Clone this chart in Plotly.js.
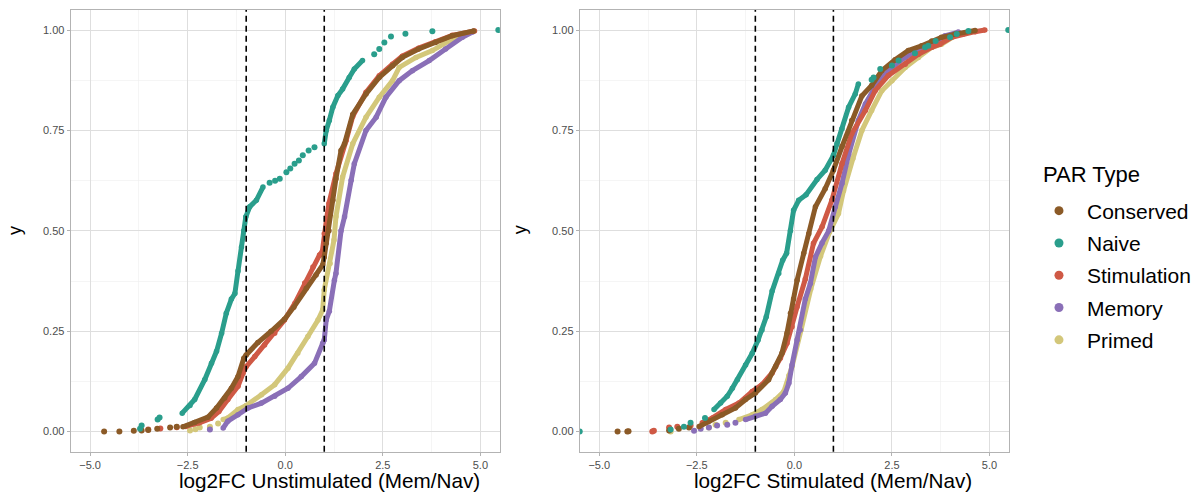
<!DOCTYPE html>
<html>
<head>
<meta charset="utf-8">
<script src="https://cdn.plot.ly/plotly-3.0.1.min.js"></script>
<style>html,body{margin:0;padding:0;background:#fff;}#chart{width:1196px;height:493px;}</style>
</head>
<body>
<div id="chart"></div>
<script>
// ---- Series names and colours ----
const parTypes = ["Conserved", "Naive", "Stimulation", "Memory", "Primed"];
const parColors = {Conserved: "#8b5a27", Naive: "#2a9e8c", Stimulation: "#cf5945", Memory: "#8a6fb7", Primed: "#d3c77a"};

// ---- Left panel: log2FC Unstimulated (Mem/Nav), ECDF ----
const unstimConservedX = [-2.62,-2.32,-1.98,-1.76,-1.55,-1.38,-1.21,-1.06,-1.0,-0.70,-0.36,-0.02,0.22,0.54,0.79,0.96,1.0,1.05,1.12,1.22,1.30,1.43,1.52,1.73,2.07,2.41,2.75,3.0,3.42,3.85,4.28,4.83];
const unstimConservedY = [0.012,0.023,0.036,0.059,0.084,0.108,0.137,0.183,0.191,0.222,0.25,0.28,0.31,0.357,0.39,0.415,0.435,0.469,0.50,0.576,0.63,0.70,0.717,0.79,0.841,0.882,0.911,0.932,0.953,0.969,0.986,0.998];
const unstimConservedDotsX = [-4.64,-4.25,-3.88,-3.68,-3.51,-3.28,-2.95,-2.78];
const unstimConservedDotsY = [0,0,0.002,0.003,0.004,0.007,0.01,0.012];

const unstimStimulationX = [-2.55,-2.2,-1.9,-1.7,-1.47,-1.21,-1.08,-1.0,-0.78,-0.53,-0.27,-0.02,0.25,0.5,0.71,0.88,0.95,1.0,1.06,1.12,1.30,1.56,1.73,2.07,2.41,2.75,3.0,3.42,3.85,4.28,4.85];
const unstimStimulationY = [0.013,0.022,0.033,0.05,0.08,0.113,0.146,0.162,0.187,0.216,0.245,0.278,0.32,0.37,0.41,0.44,0.448,0.493,0.53,0.568,0.642,0.725,0.785,0.845,0.886,0.915,0.935,0.955,0.971,0.987,0.998];
const unstimStimulationDotsX = [-3.51,-3.2,-2.78];
const unstimStimulationDotsY = [0.005,0.008,0.011];

const unstimPrimedX = [-1.59,-1.47,-1.21,-1.0,-0.61,-0.27,0.07,0.32,0.58,0.84,0.96,1.0,1.15,1.25,1.30,1.47,1.73,2.07,2.41,2.75,2.92,3.35,3.77,4.2,4.55];
const unstimPrimedY = [0.03,0.034,0.055,0.065,0.092,0.117,0.158,0.195,0.237,0.278,0.303,0.353,0.419,0.477,0.535,0.634,0.717,0.783,0.833,0.874,0.907,0.932,0.949,0.973,0.988];
const unstimPrimedDotsX = [-2.44,-2.3,-2.19,-1.93,-1.72];
const unstimPrimedDotsY = [0.003,0.006,0.01,0.012,0.02];

const unstimMemoryX = [-1.59,-1.47,-1.21,-0.95,-0.61,-0.27,0.07,0.41,0.75,0.96,1.0,1.05,1.13,1.26,1.30,1.43,1.52,1.69,1.77,2.07,2.33,2.58,2.92,3.26,3.69,4.11,4.54,4.80];
const unstimMemoryY = [0.009,0.026,0.042,0.059,0.071,0.088,0.108,0.137,0.17,0.22,0.228,0.278,0.30,0.377,0.394,0.50,0.535,0.626,0.667,0.75,0.783,0.833,0.874,0.899,0.924,0.953,0.982,0.995];
const unstimMemoryDotsX = [-1.93];
const unstimMemoryDotsY = [0.005];

const unstimNaiveX = [-2.64,-2.44,-2.32,-2.06,-1.89,-1.76,-1.63,-1.51,-1.38,-1.29,-1.21,-1.12,-1.06,-1.01,-0.91,-0.74,-0.57,null,1.0,1.05,1.13,1.22,1.35,1.47,1.64,1.77,1.98];
const unstimNaiveY = [0.046,0.065,0.08,0.13,0.17,0.20,0.245,0.295,0.33,0.344,0.40,0.46,0.50,0.535,0.56,0.576,0.609,null,0.717,0.75,0.775,0.808,0.837,0.853,0.882,0.903,0.924];
const unstimNaiveDotsX = [-3.72,-3.68,-3.27,-3.22,-0.40,-0.26,-0.14,0.03,0.13,0.24,0.35,0.45,0.6,0.75,2.28,2.41,2.54,2.71,3.08,3.77,5.46];
const unstimNaiveDotsY = [0.007,0.015,0.03,0.035,0.62,0.625,0.63,0.646,0.655,0.667,0.675,0.688,0.70,0.708,0.94,0.953,0.969,0.984,0.991,0.997,1.0];

// ---- Right panel: log2FC Stimulated (Mem/Nav) ----
const stimConservedX = [-2.44,-2.19,-1.85,-1.51,-1.25,-1.0,-0.66,-0.48,-0.32,-0.19,-0.10,-0.02,0.07,0.24,0.37,0.54,0.79,1.0,1.22,1.47,1.73,1.98,2.24,2.58,2.92,3.26,3.52,3.77,4.12,4.63];
const stimConservedY = [0.013,0.026,0.042,0.059,0.08,0.096,0.129,0.162,0.195,0.245,0.295,0.33,0.377,0.444,0.493,0.56,0.605,0.651,0.71,0.775,0.836,0.862,0.899,0.926,0.949,0.961,0.973,0.982,0.99,0.999];
const stimConservedDotsX = [-4.53,-4.28,-4.25,-3.21,-2.96,-2.70];
const stimConservedDotsY = [0,0,0.001,0.003,0.007,0.01];

const stimStimulationX = [-2.36,-2.10,-1.76,-1.42,-1.08,-0.83,-0.57,-0.36,-0.19,-0.06,0.07,0.28,0.49,0.71,0.96,1.22,1.47,1.82,2.07,2.41,2.84,3.18,3.52,3.73,4.03,4.33,4.63,4.88];
const stimStimulationY = [0.022,0.034,0.055,0.071,0.10,0.117,0.146,0.183,0.22,0.261,0.311,0.38,0.469,0.51,0.576,0.667,0.742,0.80,0.849,0.887,0.915,0.94,0.957,0.965,0.982,0.99,0.996,1.0];
const stimStimulationDotsX = [-3.64,-3.60,-3.21,-3.0,-2.66];
const stimStimulationDotsY = [0,0.002,0.01,0.012,0.015];

const stimMemoryX = [-1.25,-1.0,-0.74,-0.57,-0.36,-0.23,-0.14,-0.06,0.07,0.15,0.28,0.41,0.54,0.71,0.88,1.05,1.22,1.39,1.64,1.82,2.16,2.5,2.84,3.18,3.6,3.86,4.2];
const stimMemoryY = [0.03,0.038,0.046,0.063,0.08,0.096,0.121,0.166,0.228,0.253,0.33,0.369,0.435,0.47,0.50,0.56,0.618,0.69,0.775,0.816,0.874,0.907,0.932,0.949,0.969,0.986,0.995];
const stimMemoryDotsX = [-2.57,-2.40,-2.19,-1.98,-1.72,-1.51];
const stimMemoryDotsY = [0.002,0.007,0.01,0.015,0.017,0.022];

const stimPrimedX = [-1.42,-1.08,-0.83,-0.48,-0.27,-0.14,-0.06,0.17,0.42,0.67,0.9,1.13,1.26,1.5,1.73,1.98,2.24,2.5,2.84,3.18,3.52,3.77,4.12,4.46];
const stimPrimedY = [0.03,0.042,0.055,0.08,0.10,0.14,0.162,0.253,0.355,0.437,0.497,0.543,0.60,0.68,0.75,0.80,0.849,0.874,0.907,0.932,0.957,0.965,0.986,0.995];
const stimPrimedDotsX = [-3.17,-2.19,-2.02,-1.76];
const stimPrimedDotsY = [0,0.01,0.017,0.022];

const stimNaiveX = [-2.06,-1.89,-1.72,-1.59,-1.46,-1.25,-1.08,-0.93,-0.83,-0.72,-0.57,-0.40,-0.30,-0.20,-0.10,-0.02,0.11,0.30,0.58,0.79,1.0,1.09,1.22,1.39,1.56,1.64];
const stimNaiveY = [0.055,0.071,0.088,0.108,0.129,0.166,0.195,0.228,0.253,0.286,0.35,0.394,0.427,0.444,0.50,0.551,0.576,0.59,0.628,0.651,0.688,0.717,0.754,0.808,0.841,0.866];
const stimNaiveDotsX = [-5.5,-3.17,-2.83,-2.66,-2.29,1.98,2.03,2.2,2.5,2.67,3.09,3.35,3.43,3.62,3.99,4.16,4.46,5.48];
const stimNaiveDotsY = [0,0.005,0.012,0.022,0.034,0.876,0.882,0.903,0.912,0.924,0.942,0.957,0.961,0.973,0.982,0.99,0.998,1.0];

// ---- Axis ticks and titles ----
const xTickVals = [-5, -2.5, 0, 2.5, 5];
const yTickVals = [0, 0.25, 0.5, 0.75, 1];
const xTitles = ["log2FC Unstimulated (Mem/Nav)", "log2FC Stimulated (Mem/Nav)"];
const yTitle = "y";
const legendTitle = "PAR Type";
const cutoffs = [-1, 1];

// ---- Build traces ----
const panels = [
  {xa: "x", ya: "y", d: {
    Primed: [unstimPrimedX, unstimPrimedY, unstimPrimedDotsX, unstimPrimedDotsY],
    Memory: [unstimMemoryX, unstimMemoryY, unstimMemoryDotsX, unstimMemoryDotsY],
    Stimulation: [unstimStimulationX, unstimStimulationY, unstimStimulationDotsX, unstimStimulationDotsY],
    Conserved: [unstimConservedX, unstimConservedY, unstimConservedDotsX, unstimConservedDotsY],
    Naive: [unstimNaiveX, unstimNaiveY, unstimNaiveDotsX, unstimNaiveDotsY]}},
  {xa: "x2", ya: "y2", d: {
    Primed: [stimPrimedX, stimPrimedY, stimPrimedDotsX, stimPrimedDotsY],
    Memory: [stimMemoryX, stimMemoryY, stimMemoryDotsX, stimMemoryDotsY],
    Stimulation: [stimStimulationX, stimStimulationY, stimStimulationDotsX, stimStimulationDotsY],
    Conserved: [stimConservedX, stimConservedY, stimConservedDotsX, stimConservedDotsY],
    Naive: [stimNaiveX, stimNaiveY, stimNaiveDotsX, stimNaiveDotsY]}}
];
const drawOrder = ["Primed", "Memory", "Stimulation", "Conserved", "Naive"];
const traces = [];
panels.forEach(p => {
  drawOrder.forEach(name => {
    const [cx, cy, dx, dy] = p.d[name];
    const col = parColors[name];
    traces.push({type: "scatter", mode: "lines+markers", x: cx, y: cy, xaxis: p.xa, yaxis: p.ya,
      line: {color: col, width: 5}, marker: {color: col, size: 5.5}, connectgaps: false,
      showlegend: false, legendgroup: name, hoverinfo: "skip"});
    traces.push({type: "scatter", mode: "markers", x: dx, y: dy, xaxis: p.xa, yaxis: p.ya,
      marker: {color: col, size: 6}, showlegend: false, legendgroup: name, hoverinfo: "skip"});
  });
});
// legend entries
parTypes.forEach((name, i) => {
  traces.push({type: "scatter", mode: "markers", x: [null], y: [null], name: name,
    marker: {color: parColors[name], size: 9}, legendgroup: name, legendrank: i + 1, showlegend: true});
});

const W = 1196, H = 493;
const px = v => v / W, py = v => 1 - v / H;

function xAxis(dom, anchor) {
  return {domain: dom, anchor: anchor, range: [-5.5, 5.5], tickmode: "array", tickvals: xTickVals,
    tickformat: ".1f", showgrid: true, gridcolor: "#dedede", gridwidth: 1, zeroline: false,
    minor: {tickmode: "linear", tick0: 0, dtick: 1.25, showgrid: true, gridcolor: "#eeeeee", gridwidth: 0.6, ticks: ""},
    showline: true, mirror: true, linecolor: "#b3b3b3", linewidth: 1,
    ticks: "outside", ticklen: 3, tickcolor: "#b3b3b3", tickwidth: 1,
    tickfont: {size: 11, color: "#4d4d4d"}, automargin: false, fixedrange: true};
}
function yAxis(anchor) {
  return {domain: [1 - 451.7 / H, 1 - 10 / H], anchor: anchor, range: [-0.05, 1.05], tickmode: "array", tickvals: yTickVals,
    tickformat: ".2f", showgrid: true, gridcolor: "#dedede", gridwidth: 1, zeroline: false,
    minor: {tickmode: "linear", tick0: 0, dtick: 0.125, showgrid: true, gridcolor: "#eeeeee", gridwidth: 0.6, ticks: ""},
    showline: true, mirror: true, linecolor: "#b3b3b3", linewidth: 1,
    ticks: "outside", ticklen: 3, tickcolor: "#b3b3b3", tickwidth: 1,
    tickfont: {size: 11, color: "#4d4d4d"}, automargin: false, fixedrange: true};
}

const shapes = [];
[["x", "y"], ["x2", "y2"]].forEach(([xa, ya]) => {
  cutoffs.forEach(c => shapes.push({type: "line", xref: xa, yref: ya + " domain", x0: c, x1: c, y0: 0, y1: 1,
    line: {color: "#000000", width: 1.6, dash: "6px,4px"}, layer: "above"}));
});

const annotations = [
  {text: xTitles[0], xref: "paper", yref: "paper", x: px(330.5), y: py(480), showarrow: false, xanchor: "center", yanchor: "middle", font: {size: 20.7, color: "#000"}},
  {text: xTitles[1], xref: "paper", yref: "paper", x: px(834.5), y: py(480), showarrow: false, xanchor: "center", yanchor: "middle", font: {size: 20.7, color: "#000"}},
  {text: yTitle, xref: "paper", yref: "paper", x: px(15), y: py(230), showarrow: false, textangle: -90, xanchor: "center", yanchor: "middle", font: {size: 18, color: "#000"}},
  {text: yTitle, xref: "paper", yref: "paper", x: px(521), y: py(230), showarrow: false, textangle: -90, xanchor: "center", yanchor: "middle", font: {size: 18, color: "#000"}},
  {text: legendTitle, xref: "paper", yref: "paper", x: px(1043), y: py(175), showarrow: false, xanchor: "left", yanchor: "middle", font: {size: 22, color: "#000"}}
];

const layout = {
  width: W, height: H, margin: {l: 0, r: 0, t: 0, b: 0},
  paper_bgcolor: "#ffffff", plot_bgcolor: "#ffffff",
  font: {family: "Liberation Sans, Arial, sans-serif", color: "#000"},
  xaxis: xAxis([70.7 / W, 500.7 / W], "y"),
  yaxis: yAxis("x"),
  xaxis2: xAxis([580.7 / W, 1010.7 / W], "y2"),
  yaxis2: yAxis("x2"),
  shapes: shapes, annotations: annotations,
  showlegend: true,
  legend: {x: px(1032.7), y: py(190.5), xanchor: "left", yanchor: "top", bgcolor: "rgba(0,0,0,0)",
    font: {size: 21, color: "#000"}, itemwidth: 46,
    traceorder: "grouped", tracegroupgap: 2, itemsizing: "trace"},
  hovermode: false
};

Plotly.newPlot("chart", traces, layout, {staticPlot: true, displayModeBar: false});
</script>
</body>
</html>
